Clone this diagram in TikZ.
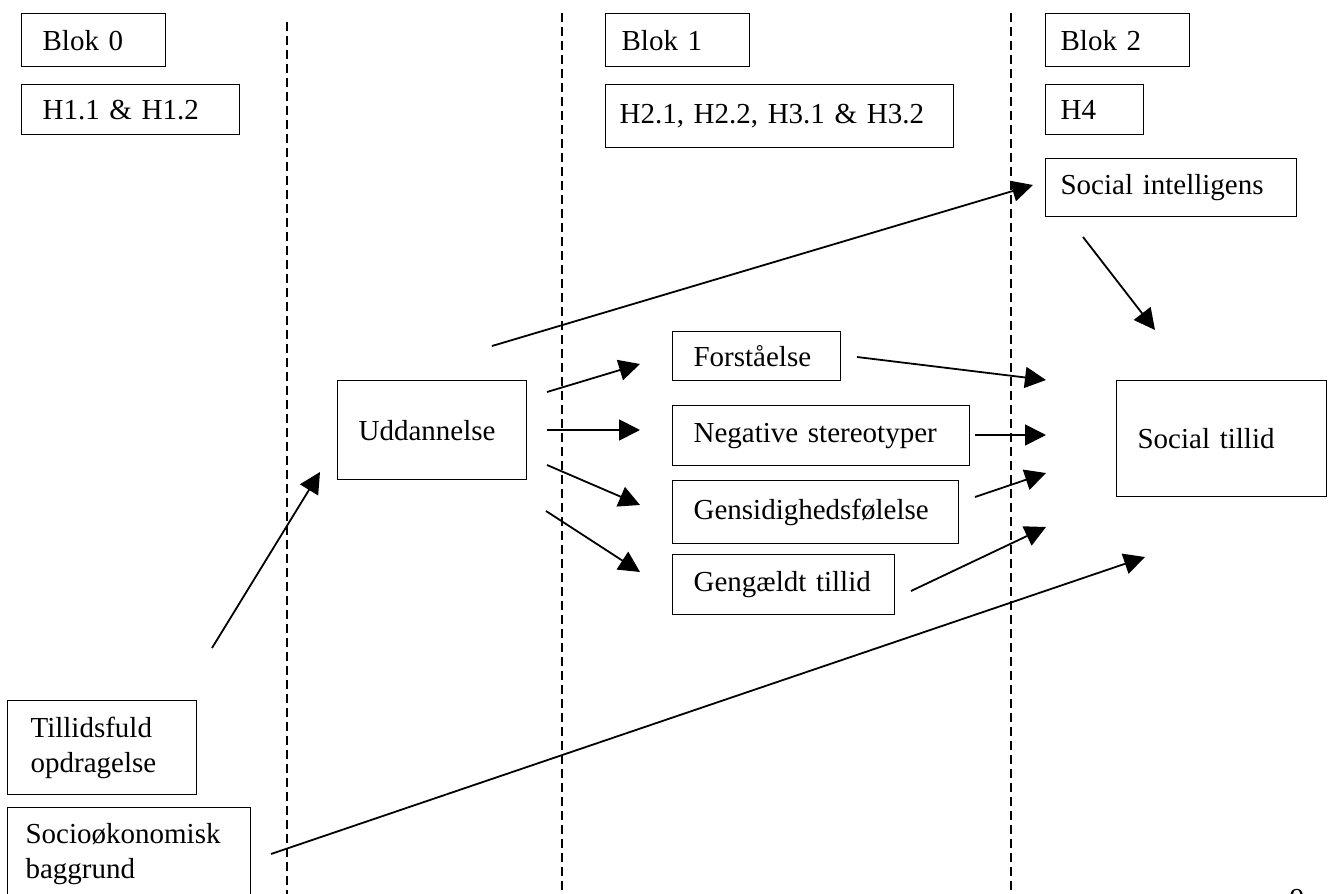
\documentclass[tikz,border=0pt]{standalone}
\usepackage{fontspec}
\setmainfont{Liberation Serif}
\usetikzlibrary{arrows.meta}

\begin{document}
\begin{tikzpicture}[x=0.5pt, y=-0.5pt,
            box/.style n args={3}{draw, rectangle, line width=0.6pt, anchor=north west, align=left,
                font=\fontsize{14.5pt}{17.5pt}\selectfont, inner ysep=0pt,
                minimum width=#1*0.5pt, minimum height=#2*0.5pt,
                inner xsep=#3*0.5pt, text width=(#1-2*#3)*0.5pt},
            arr/.style={-{Triangle[length=10.5pt,width=10.5pt]}, line width=0.9pt},
            sep/.style={dash pattern=on 4.5pt off 2.5pt, line width=0.7pt},
        ]
            \useasboundingbox (0,0) rectangle (1329,894);
            \draw[sep] (287,22) -- (287,894);
            \draw[sep] (562,13) -- (562,894);
            \draw[sep] (1011,13) -- (1011,894);
            \node(blok0node) at (21,13) [box={144}{53}{21}] {Blok 0};
            \node(hyp0node) at (21,84) [box={218}{50}{21}] {H1.1 \& H1.2};
            \node(blok1node) at (605,13) [box={144}{53}{16}] {Blok 1};
            \node(hyp1node) at (605,84) [box={348}{63}{14}] {H2.1, H2.2, H3.1 \& H3.2};
            \node(blok2node) at (1045,13) [box={144}{53}{15}] {Blok 2};
            \node(hyp2node) at (1045,84) [box={98}{50}{15}] {H4};
            \node(socintnode) at (1045,158) [box={251}{58}{15}] {Social intelligens};
            \node(uddnode) at (337,380) [box={189}{99}{21}] {Uddannelse};
            \node(forstnode) at (672,331) [box={168}{49}{21}] {Forståelse};
            \node(negnode) at (672,405) [box={297}{60}{21}] {Negative stereotyper};
            \node(gensidnode) at (672,480) [box={286}{63}{21}] {Gensidighedsfølelse};
            \node(gengnode) at (672,554) [box={222}{60}{21}] {Gengældt tillid};
            \node(soctilnode) at (1116,380) [box={210}{116}{21}] {Social tillid};
            \node(opdragnode) at (7,700) [box={189}{94}{23}] {Tillidsfuld\\opdragelse};
            \node(socionode) at (7,807) [box={243}{92}{18}] {Socioøkonomisk\\baggrund};
            \node(pagenode) at (1297,889) [anchor=north, inner sep=0pt, font=\fontsize{14.5pt}{17.5pt}\selectfont] {9};
            \coordinate (opdragout) at (212,648);
            \coordinate (uddin) at (320,472);
            \coordinate (uddout) at (492,346);
            \coordinate (socintin) at (1033,185);
            \coordinate (uddforst) at (547,392);
            \coordinate (forstin) at (640,364);
            \coordinate (uddneg) at (547,430);
            \coordinate (negin) at (640,430);
            \coordinate (uddgensid) at (547,465);
            \coordinate (gensidin) at (640,505);
            \coordinate (uddgeng) at (546,511);
            \coordinate (gengin) at (640,572);
            \coordinate (forstout) at (857,357);
            \coordinate (tilforst) at (1046,380);
            \coordinate (negout) at (975,435);
            \coordinate (tilneg) at (1046,435);
            \coordinate (gensidout) at (975,497);
            \coordinate (tilgensid) at (1046,473);
            \coordinate (gengout) at (911,591);
            \coordinate (tilgeng) at (1046,527);
            \coordinate (socintout) at (1083,237);
            \coordinate (tilsocint) at (1155,330);
            \coordinate (sociout) at (271,854);
            \coordinate (tilsocio) at (1145,557);
            \draw[arr] (opdragout) -- (uddin);
            \draw[arr] (uddout) -- (socintin);
            \draw[arr] (uddforst) -- (forstin);
            \draw[arr] (uddneg) -- (negin);
            \draw[arr] (uddgensid) -- (gensidin);
            \draw[arr] (uddgeng) -- (gengin);
            \draw[arr] (forstout) -- (tilforst);
            \draw[arr] (negout) -- (tilneg);
            \draw[arr] (gensidout) -- (tilgensid);
            \draw[arr] (gengout) -- (tilgeng);
            \draw[arr] (socintout) -- (tilsocint);
            \draw[arr] (sociout) -- (tilsocio);
        \end{tikzpicture}
\end{document}
